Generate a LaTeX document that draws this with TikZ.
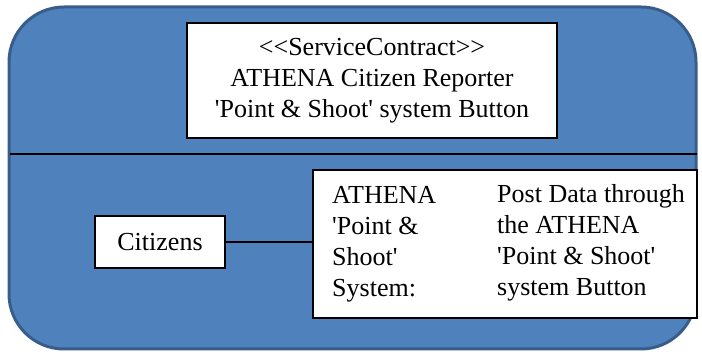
\documentclass[tikz,border=0pt]{standalone}
\usepackage{fontspec}
\setmainfont{Liberation Serif}[Ligatures=TeXOff]
\definecolor{panelfill}{HTML}{4F81BD}
\definecolor{panelline}{HTML}{385D8A}
\tikzset{
  panel/.style={draw=panelline, fill=panelfill, line width=3pt, rounded corners=55pt, inner sep=0pt},
  whitebox/.style={draw=black, fill=white, line width=1.5pt, inner sep=0pt},
  txt/.style={font=\fontsize{26}{31}\selectfont},
  link/.style={draw=black, line width=1.5pt}
}
\begin{document}
\begin{tikzpicture}[x=1pt,y=-1pt]
\useasboundingbox (0,0) rectangle (702,355);
\node[panel, minimum width=687pt, minimum height=342pt] (outer) at (352.5,178) {};
\coordinate (divL) at (10,154);
\coordinate (divR) at (697,154);
\draw[link] (divL) -- (divR);
\node[whitebox, txt, align=center, minimum width=370pt, minimum height=115pt] (contract) at (372,80.5)
  {<<ServiceContract>>\\ATHENA Citizen Reporter\\'Point \& Shoot' system Button};
\node[whitebox, txt, minimum width=130pt, minimum height=52pt] (citizens) at (160,242) {Citizens};
\node[whitebox, minimum width=384pt, minimum height=148pt] (system) at (505,244) {};
\node[txt, align=left, anchor=north west, inner sep=0pt] (sysname) at (332,186)
  {ATHENA\\'Point \&\\Shoot'\\System:};
\node[txt, align=left, anchor=north west, inner sep=0pt] (sysop) at (497,184)
  {Post Data through\\the ATHENA\\'Point \& Shoot'\\system Button};
\draw[link] (citizens.east) -- (system.west |- citizens.east);
\end{tikzpicture}
\end{document}
